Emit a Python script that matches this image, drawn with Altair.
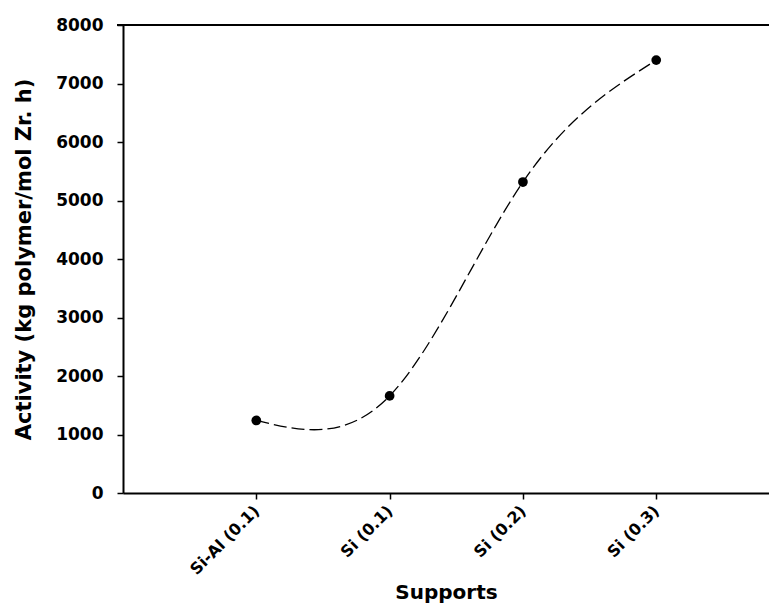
import json
import altair as alt
import pandas as pd

categories = ["Si-Al (0.1)", "Si (0.1)", "Si (0.2)", "Si (0.3)"]
positions = [1, 2, 3, 4]
activity = [1240, 1660, 5316, 7400]
y_ticks = [0, 1000, 2000, 3000, 4000, 5000, 6000, 7000, 8000]

df = pd.DataFrame({"pos": positions, "support": categories, "activity": activity})

label_expr = json.dumps(categories) + "[datum.value - 1]"
FONT = "DejaVu Sans"

x_enc = alt.X(
    "pos:Q",
    scale=alt.Scale(domain=[0, 4.846], nice=False, zero=False),
    axis=alt.Axis(
        values=positions,
        labelExpr=label_expr,
        title="Supports",
        labelAngle=-45,
        labelAlign="right",
        labelBaseline="middle",
        labelPadding=9,
        labelFont=FONT,
        labelFontWeight="bold",
        labelFontSize=16,
        labelColor="black",
        titleFont=FONT,
        titleFontWeight="bold",
        titleFontSize=20,
        titleColor="black",
        titleBaseline="alphabetic",
        titleY=105,
        grid=False,
        tickSize=6,
    ),
)
y_enc = alt.Y(
    "activity:Q",
    scale=alt.Scale(domain=[0, 8000], nice=False),
    axis=alt.Axis(
        values=y_ticks,
        format="d",
        title="Activity (kg polymer/mol Zr. h)",
        labelFont=FONT,
        labelFontWeight="bold",
        labelFontSize=17,
        labelColor="black",
        labelPadding=14,
        titleFont=FONT,
        titleFontWeight="bold",
        titleFontSize=21,
        titleColor="black",
        titlePadding=21,
        grid=False,
        tickSize=6,
    ),
)

base = alt.Chart(df)
line = base.mark_line(
    interpolate="natural", color="black", strokeWidth=1.3, strokeDash=[13, 5]
).encode(x=x_enc, y=y_enc)
points = base.mark_circle(size=95, color="black", opacity=1).encode(x="pos:Q", y="activity:Q")
top = alt.Chart(pd.DataFrame({"a": [0]})).mark_rule(color="black", strokeWidth=2).encode(
    x=alt.value(-6), x2=alt.value(646), y=alt.value(0)
)

chart = (
    alt.layer(line, points, top)
    .properties(
        width=646,
        height=468,
        autosize=alt.AutoSizeParams(type="none"),
        padding={"left": 115, "top": 17, "right": 0, "bottom": 111},
    )
    .configure_view(stroke=None)
    .configure_axis(domainColor="black", domainWidth=2, tickColor="black", tickWidth=1.5)
)

chart.save("out.html", embed_options={"renderer": "svg", "actions": False})
